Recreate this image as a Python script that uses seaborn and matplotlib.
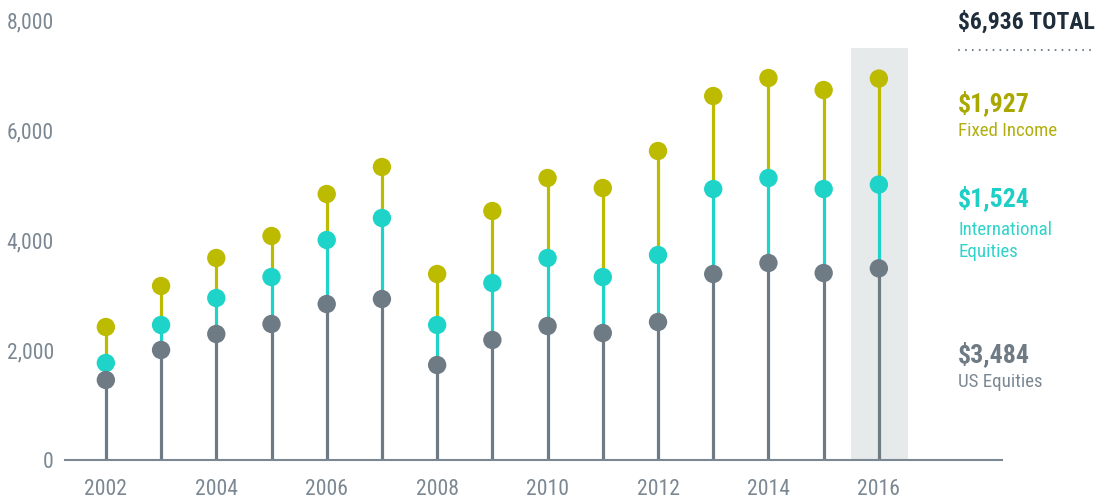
import matplotlib
matplotlib.use("Agg")
import matplotlib.pyplot as plt
from matplotlib.lines import Line2D
from matplotlib.patches import Rectangle
from matplotlib import font_manager
import seaborn as sns
import numpy as np
import pandas as pd

# ---- data ----
years = [2002, 2003, 2004, 2005, 2006, 2007, 2008, 2009, 2010, 2011, 2012, 2013, 2014, 2015, 2016]
us_equities = [1455, 2000, 2291, 2473, 2836, 2927, 1727, 2182, 2436, 2309, 2509, 3382, 3582, 3400, 3484]
intl_equities = [309, 455, 654, 854, 1164, 1473, 728, 1036, 1237, 1018, 1218, 1545, 1545, 1527, 1524]
fixed_income = [654, 709, 728, 746, 836, 927, 927, 1309, 1454, 1618, 1891, 1691, 1818, 1800, 1927]
y_ticks = [0, 2000, 4000, 6000, 8000]
x_ticks = [2002, 2004, 2006, 2008, 2010, 2012, 2014, 2016]
highlight_year = 2016
highlight_top = 7490
total_label = "$6,936 TOTAL"
series_labels = [("$1,927", "Fixed Income"), ("$1,524", "International\nEquities"), ("$3,484", "US Equities")]

GRAY = "#6e7b85"
TEAL = "#1ed3c8"
OLIVE = "#bcbb00"
TXT = "#7b8893"

sns.set_theme(style="white")

# pick a condensed font if one is installed
entries = font_manager.fontManager.ttflist
names = {f.name for f in entries}
family, stretch = "DejaVu Sans", "normal"
for nm in ["Liberation Sans Narrow", "Roboto Condensed", "Open Sans Condensed", "Noto Sans Condensed",
           "DejaVu Sans Condensed"]:
    if nm in names:
        family = nm
        break
else:
    for pref in ["Noto Sans", "Open Sans", "Roboto", "DejaVu Sans", "Inter", "Lato"]:
        hit = [f for f in entries if f.name == pref and str(f.stretch) in ("condensed", "semi-condensed", "extra-condensed")]
        if hit:
            family, stretch = pref, str(hit[0].stretch)
            break
plt.rcParams['font.family'] = [family, 'DejaVu Sans']
plt.rcParams['font.stretch'] = stretch

us = np.array(us_equities, dtype=float)
intl_top = us + np.array(intl_equities, dtype=float)
total = intl_top + np.array(fixed_income, dtype=float)

df = pd.DataFrame({
    "year": years * 3,
    "value": list(total) + list(intl_top) + list(us),
    "series": ["Fixed Income"] * len(years) + ["International Equities"] * len(years) + ["US Equities"] * len(years),
})

fig = plt.figure(figsize=(11.04, 4.99), dpi=100)
renderer = fig.canvas.get_renderer()


def fit(s, size, target, weight="normal"):
    t = fig.text(0, 0, s, fontsize=size, fontweight=weight)
    w = t.get_window_extent(renderer).width
    t.remove()
    return size * target / w


ax = fig.add_axes([65 / 1104, 39 / 499, (1002 - 65) / 1104, 440 / 499])

ax.add_patch(Rectangle((highlight_year - 0.5, 0), 1.03, highlight_top, facecolor="#e6eaeb", edgecolor="none", zorder=0))

lw = 2.3
ax.vlines(years, intl_top, total, color=OLIVE, lw=lw, zorder=1)
ax.vlines(years, us, intl_top, color=TEAL, lw=lw, zorder=1)
ax.vlines(years, 0, us, color=GRAY, lw=lw, zorder=1)

sns.scatterplot(data=df, x="year", y="value", hue="series",
                hue_order=["Fixed Income", "International Equities", "US Equities"],
                palette=[OLIVE, TEAL, GRAY], s=175, linewidth=0, legend=False, ax=ax, zorder=3)

tick_size = min(fit("8,000", 15.5, 48), fit("2002", 15.5, 43), 16.5)
ax.set_xlim(2001.26, 2018.23)
ax.set_ylim(0, 8000)
ax.set_xticks(x_ticks)
ax.set_xticklabels([str(t) for t in x_ticks])
ax.set_yticks(y_ticks)
ax.set_yticklabels([f"{t:,}" for t in y_ticks])
ax.set_xlabel("")
ax.set_ylabel("")
for s in ["top", "right", "left"]:
    ax.spines[s].set_visible(False)
ax.spines["bottom"].set_color("#7b8893")
ax.spines["bottom"].set_linewidth(1.5)
ax.spines["bottom"].set_zorder(2)
ax.tick_params(axis="both", length=0, labelsize=tick_size, labelcolor=TXT)
ax.tick_params(axis="y", pad=8)
ax.tick_params(axis="x", pad=14)
ax.grid(False)


def fy(py):
    return 1 - py / 499


x0 = 958 / 1104
fig.text(x0, fy(22), total_label, fontsize=min(fit(total_label, 18, 137, "bold"), 20), fontweight="bold",
         color="#1e2d3b", va="center", ha="left")
fig.add_artist(Line2D([x0 + 1 / 1104, 1094 / 1104], [fy(50), fy(50)], transform=fig.transFigure,
                      color=GRAY, lw=1.5, linestyle=(0, (0.01, 3.3)), dash_capstyle="round"))

colors_big = ["#a9a800", "#1ecfc5", GRAY]
colors_small = ["#b0ae10", "#2fd3ca", "#7b8893"]
ys_big = [103, 198, 354]
ys_small = [131, 241, 382]
big_size = min(min(fit(b, 17, 72, "bold") for b, _ in series_labels), 20)
small_size = min(fit("International", 14.5, 99), fit("Fixed Income", 14.5, 99), fit("US Equities", 14.5, 86), 17)
for (big, small), cb, cs, yb, ysm in zip(series_labels, colors_big, colors_small, ys_big, ys_small):
    fig.text(x0, fy(yb), big, fontsize=big_size, fontweight="bold", color=cb, va="center", ha="left")
    fig.text(x0, fy(ysm), small, fontsize=small_size, color=cs, va="center", ha="left", linespacing=1.3)

fig.savefig("out.png", dpi=100)
